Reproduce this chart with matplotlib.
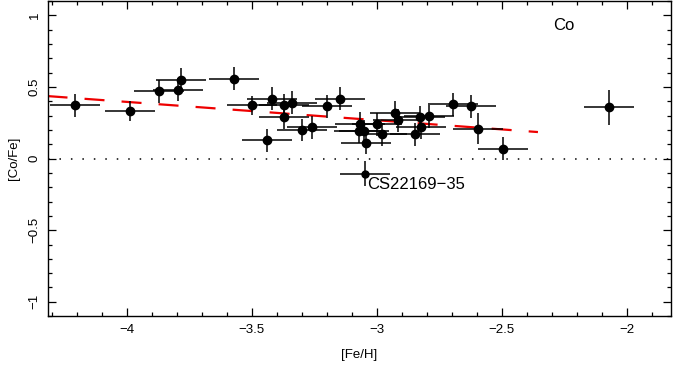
import numpy as np
import matplotlib
matplotlib.use("Agg")
import matplotlib.pyplot as plt
from matplotlib.ticker import MultipleLocator

plt.rcParams['font.family'] = ['Liberation Sans', 'DejaVu Sans']
plt.rcParams['font.size'] = 9.5

# [Fe/H], [Co/Fe] and errors
feh = [-4.207, -3.987, -3.873, -3.794, -3.783, -3.571, -3.50, -3.42, -3.37, -3.34,
       -3.37, -3.30, -3.44, -3.258, -3.198, -3.147, -3.069, -3.071, -3.053, -3.043,
       -2.998, -2.978, -2.927, -2.916, -2.827, -2.847, -2.824, -2.79, -2.696, -2.624,
       -2.594, -2.494, -2.07]
cofe = [0.372, 0.33, 0.47, 0.48, 0.551, 0.558, 0.372, 0.419, 0.372, 0.39,
        0.29, 0.20, 0.128, 0.22, 0.365, 0.419, 0.244, 0.19, 0.19, 0.109,
        0.239, 0.17, 0.321, 0.267, 0.29, 0.17, 0.22, 0.297, 0.379, 0.367,
        0.209, 0.07, 0.358]
err_feh = [0.1] * len(feh)
err_cofe = [0.08, 0.07, 0.08, 0.08, 0.08, 0.08, 0.065, 0.08, 0.08, 0.08,
            0.08, 0.08, 0.08, 0.08, 0.08, 0.08, 0.08, 0.08, 0.08, 0.08,
            0.08, 0.08, 0.08, 0.08, 0.08, 0.08, 0.08, 0.08, 0.08, 0.08,
            0.11, 0.08, 0.12]

# outlier star
out_name = "CS22169-35"
out_feh, out_cofe = -3.047, -0.105
out_err_feh, out_err_cofe = 0.1, 0.087

# linear trend: [Co/Fe] = a + b*[Fe/H]
fit_a, fit_b = -0.116, -0.128
fit_range = [-4.318, -2.355]

fig = plt.figure(figsize=(6.79, 3.71), dpi=100)
ax = fig.add_axes([0.070, 0.148, 0.918, 0.849])

ax.axhline(0, color='black', linestyle=(0, (1, 6.5)), linewidth=1.1)

xf = np.array(fit_range)
ax.plot(xf, fit_a + fit_b * xf, color='#ee0000', linestyle=(0, (9, 7.7)), linewidth=1.6)

ax.errorbar(feh, cofe, xerr=err_feh, yerr=err_cofe, fmt='o', color='black',
            markersize=6, elinewidth=1.1, capsize=0)
ax.errorbar([out_feh], [out_cofe], xerr=[out_err_feh], yerr=[out_err_cofe], fmt='o',
            color='black', markersize=5, elinewidth=1.1, capsize=0)
ax.text(out_feh + 0.01, out_cofe - 0.025, out_name.replace('-', '\u2212'),
        ha='left', va='top', fontsize=12)

ax.text(-2.295, 0.93, "Co", ha='left', va='center', fontsize=12)

ax.set_xlim(-4.318, -1.823)
ax.set_ylim(-1.1, 1.1)
ax.xaxis.set_major_locator(MultipleLocator(0.5))
ax.xaxis.set_minor_locator(MultipleLocator(0.1))
ax.yaxis.set_major_locator(MultipleLocator(0.5))
ax.yaxis.set_minor_locator(MultipleLocator(0.1))
ax.tick_params(which='both', direction='in', top=True, right=True, width=0.9)
ax.tick_params(which='major', length=6)
ax.tick_params(which='minor', length=3)
ax.set_xticks([-4, -3.5, -3, -2.5, -2])
ax.set_xticklabels(['\u22124', '\u22123.5', '\u22123', '\u22122.5', '\u22122'])
ax.set_yticks([-1, -0.5, 0, 0.5, 1])
ax.set_yticklabels(['\u22121', '\u22120.5', '0', '0.5', '1'], rotation=90, va='center')
ax.tick_params(axis='x', pad=6)
ax.tick_params(axis='y', pad=5)
for s in ax.spines.values():
    s.set_linewidth(1.0)

ax.set_xlabel("[Fe/H]", labelpad=9)
ax.set_ylabel("[Co/Fe]", labelpad=6)

plt.savefig("out.png", dpi=100)
